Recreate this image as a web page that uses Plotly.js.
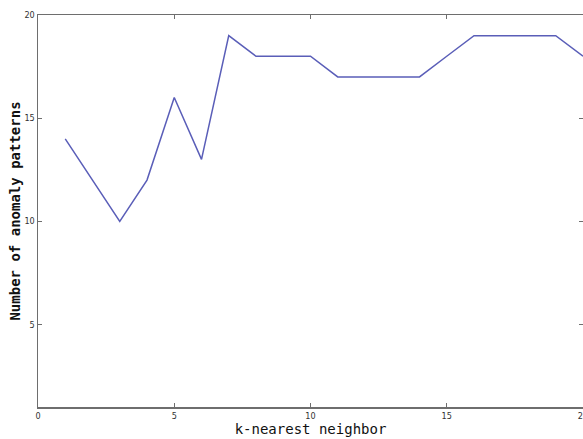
<!DOCTYPE html>
<html>
<head>
<meta charset="utf-8">
<script src="https://cdn.plot.ly/plotly-3.0.1.min.js"></script>
<style>
  html, body { margin: 0; padding: 0; background: #ffffff; }
  #chart { width: 583px; height: 439px; }
</style>
</head>
<body>
<div id="chart"></div>
<script>
// k values and number of anomaly patterns found for each k
const kValues = [1, 2, 3, 4, 5, 6, 7, 8, 9, 10, 11, 12, 13, 14, 15, 16, 17, 18, 19, 20];
const anomalyCounts = [14, 12, 10, 12, 16, 13, 19, 18, 18, 18, 17, 17, 17, 17, 18, 19, 19, 19, 19, 18];

const xTickVals = [0, 5, 10, 15, 20];
const yTickVals = [5, 10, 15, 20];

const tickFont = { family: 'Liberation Sans Narrow, DejaVu Sans Condensed, Arial Narrow, sans-serif', size: 9, color: '#333333' };

const trace = {
  x: kValues,
  y: anomalyCounts,
  type: 'scatter',
  mode: 'lines',
  line: { color: '#5a5eb8', width: 1.5 },
  hoverinfo: 'skip'
};

const axisCommon = {
  showline: true,
  linecolor: '#6e6e6e',
  linewidth: 1.5,
  mirror: 'ticks',
  ticks: 'inside',
  ticklen: 4,
  tickcolor: '#6e6e6e',
  tickwidth: 1,
  showgrid: false,
  zeroline: false,
  tickfont: tickFont
};

const layout = {
  width: 583,
  height: 439,
  margin: { l: 38, r: 0, t: 15, b: 32 },
  paper_bgcolor: '#ffffff',
  plot_bgcolor: '#ffffff',
  showlegend: false,
  xaxis: Object.assign({}, axisCommon, {
    range: [0, 20],
    tickvals: xTickVals,
    ticktext: xTickVals.map(String),
    ticklabeloverflow: 'allow',
    title: { text: 'k-nearest neighbor', font: { family: 'DejaVu Sans Mono, monospace', size: 14, color: '#111111' }, standoff: 4 }
  }),
  yaxis: Object.assign({}, axisCommon, {
    range: [1, 20],
    tickvals: yTickVals,
    ticktext: yTickVals.map(String),
    title: { text: '<b>Number of anomaly patterns</b>', font: { family: 'DejaVu Sans Mono, monospace', size: 14, color: '#111111' }, standoff: 0 }
  })
};

Plotly.newPlot('chart', [trace], layout, { staticPlot: true, displayModeBar: false });
</script>
</body>
</html>
